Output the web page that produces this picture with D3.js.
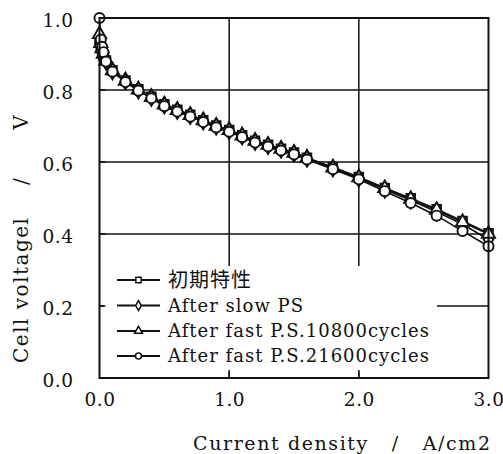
<!DOCTYPE html>
<html><head><meta charset="utf-8">
<script src="https://cdn.jsdelivr.net/npm/d3@7"></script>
<style>body{margin:0;background:#fff}svg{display:block}</style>
</head><body>
<script>
const seriesNames = ["初期特性", "After slow PS", "After fast P.S.10800cycles", "After fast P.S.21600cycles"];
const markerTypes = ["square", "diamond", "triangle", "circle"];
const currents = [0, 0.01, 0.02, 0.03, 0.05, 0.1, 0.2, 0.3, 0.4, 0.5, 0.6, 0.7, 0.8, 0.9, 1.0, 1.1, 1.2, 1.3, 1.4, 1.5, 1.6, 1.8, 2.0, 2.2, 2.4, 2.6, 2.8, 3.0];
const vInitial   = [0.94, 0.92, 0.905, 0.895, 0.882, 0.855, 0.826, 0.802, 0.781, 0.760, 0.745, 0.731, 0.716, 0.701, 0.689, 0.674, 0.659, 0.648, 0.637, 0.626, 0.612, 0.585, 0.558, 0.528, 0.499, 0.469, 0.436, 0.402];
const vSlowPS    = [0.95, 0.925, 0.91, 0.90, 0.880, 0.853, 0.825, 0.800, 0.779, 0.758, 0.743, 0.729, 0.714, 0.699, 0.687, 0.672, 0.657, 0.646, 0.635, 0.624, 0.610, 0.583, 0.555, 0.524, 0.494, 0.462, 0.427, 0.385];
const vFast10800 = [0.955, 0.93, 0.915, 0.90, 0.881, 0.854, 0.825, 0.801, 0.780, 0.759, 0.744, 0.730, 0.715, 0.700, 0.688, 0.673, 0.658, 0.647, 0.636, 0.625, 0.611, 0.584, 0.557, 0.527, 0.497, 0.467, 0.433, 0.400];
const vFast21600 = [1.0, 0.94, 0.92, 0.905, 0.879, 0.851, 0.822, 0.798, 0.777, 0.755, 0.740, 0.726, 0.711, 0.696, 0.684, 0.669, 0.654, 0.643, 0.632, 0.621, 0.607, 0.580, 0.552, 0.519, 0.486, 0.451, 0.408, 0.366];
const xTicks = [0, 1, 2, 3];
const yTicks = [0, 0.2, 0.4, 0.6, 0.8, 1.0];
const xTitle = "Current density   /   A/cm2";
const yTitle = "Cell voltagel    /      V";

const allSeries = [vInitial, vSlowPS, vFast10800, vFast21600];
const W = 503, H = 454;
const L = 99.5, R = 488.5, T = 18, B = 378;
const svg = d3.select("body").append("svg").attr("width", W).attr("height", H);
svg.append("rect").attr("width", W).attr("height", H).attr("fill", "#fff");
const x = d3.scaleLinear().domain([0, 3]).range([L, R]);
const y = d3.scaleLinear().domain([0, 1]).range([B, T]);
const font = "DejaVu Serif";
const ink = "#111";

// gridlines
const g = svg.append("g");
g.selectAll("line.hg").data(yTicks.filter(v => v > 0 && v < 1)).enter().append("line")
  .attr("x1", L).attr("x2", R).attr("y1", d => y(d)).attr("y2", d => y(d))
  .attr("stroke", ink).attr("stroke-width", 1.5);
g.selectAll("line.vg").data(xTicks.filter(v => v > 0 && v < 3)).enter().append("line")
  .attr("x1", d => x(d)).attr("x2", d => x(d)).attr("y1", T).attr("y2", B)
  .attr("stroke", ink).attr("stroke-width", 1.5);

// series
const symMap = {square: d3.symbolSquare, diamond: d3.symbolDiamond, triangle: d3.symbolTriangle, circle: d3.symbolCircle};
const sizeMap = {square: 75, diamond: 80, triangle: 75, circle: 80};
const line = d3.line().x((d, i) => x(currents[i])).y(d => y(d));
allSeries.forEach((vals) => {
  svg.append("path").attr("d", line(vals)).attr("fill", "none").attr("stroke", ink).attr("stroke-width", 1.7);
});
allSeries.forEach((vals, si) => {
  const t = markerTypes[si];
  svg.append("g").selectAll("path").data(vals).enter().append("path")
    .attr("transform", (d, i) => `translate(${x(currents[i])},${y(d)})`)
    .attr("d", d3.symbol().type(symMap[t]).size(sizeMap[t]))
    .attr("fill", "#fff").attr("stroke", ink).attr("stroke-width", 1.9);
});

// legend
const lg = svg.append("g");
lg.append("rect").attr("x", 104).attr("y", 266).attr("width", 333).attr("height", 104).attr("fill", "#fff");
const rowY = [280, 305.5, 331, 356];
seriesNames.forEach((name, i) => {
  lg.append("line").attr("x1", 117).attr("x2", 160).attr("y1", rowY[i]).attr("y2", rowY[i]).attr("stroke", ink).attr("stroke-width", 1.9);
  lg.append("path").attr("transform", `translate(138.5,${rowY[i]})`)
    .attr("d", d3.symbol().type(symMap[markerTypes[i]]).size(28))
    .attr("fill", "#fff").attr("stroke", ink).attr("stroke-width", 1.5);
  lg.append("text").attr("x", 168).attr("y", rowY[i]).attr("dy", "0.36em")
    .attr("font-family", i === 0 ? "Noto Sans CJK JP" : font)
    .attr("font-size", i === 0 ? 20 : 18)
    .attr("letter-spacing", 1)
    .attr("fill", ink).text(name);
});

// frame
svg.append("rect").attr("x", L).attr("y", T).attr("width", R - L).attr("height", B - T)
  .attr("fill", "none").attr("stroke", ink).attr("stroke-width", 2);
// inner ticks
svg.selectAll("line.xt").data(xTicks.filter(v => v > 0 && v < 3)).enter().append("line")
  .attr("x1", d => x(d)).attr("x2", d => x(d)).attr("y1", B).attr("y2", B - 6).attr("stroke", ink).attr("stroke-width", 1.5);
svg.selectAll("line.yt").data(yTicks.filter(v => v > 0 && v < 1)).enter().append("line")
  .attr("x1", L).attr("x2", L + 6).attr("y1", d => y(d)).attr("y2", d => y(d)).attr("stroke", ink).attr("stroke-width", 1.5);

// tick labels
svg.selectAll("text.yl").data(yTicks).enter().append("text")
  .attr("x", 73.5).attr("y", d => y(d)).attr("dy", "0.48em").attr("text-anchor", "end")
  .attr("font-family", font).attr("font-size", 18.5).attr("letter-spacing", 0.5)
  .attr("fill", ink).text(d => d.toFixed(1));
svg.selectAll("text.xl").data(xTicks).enter().append("text")
  .attr("x", d => x(d) + 0.5).attr("y", 406).attr("text-anchor", "middle")
  .attr("font-family", font).attr("font-size", 18.5).attr("letter-spacing", 0.5)
  .attr("fill", ink).text(d => d.toFixed(1));

// titles
svg.append("text").attr("x", 193).attr("y", 450).attr("text-anchor", "start")
  .attr("font-family", font).attr("font-size", 19).attr("letter-spacing", 1.6).attr("fill", ink)
  .style("white-space", "pre").text(xTitle);
svg.append("text").attr("transform", "translate(28,363) rotate(-90)").attr("text-anchor", "start")
  .attr("font-family", font).attr("font-size", 20).attr("letter-spacing", 1.5).attr("fill", ink)
  .style("white-space", "pre").text(yTitle);
</script>
</body></html>
